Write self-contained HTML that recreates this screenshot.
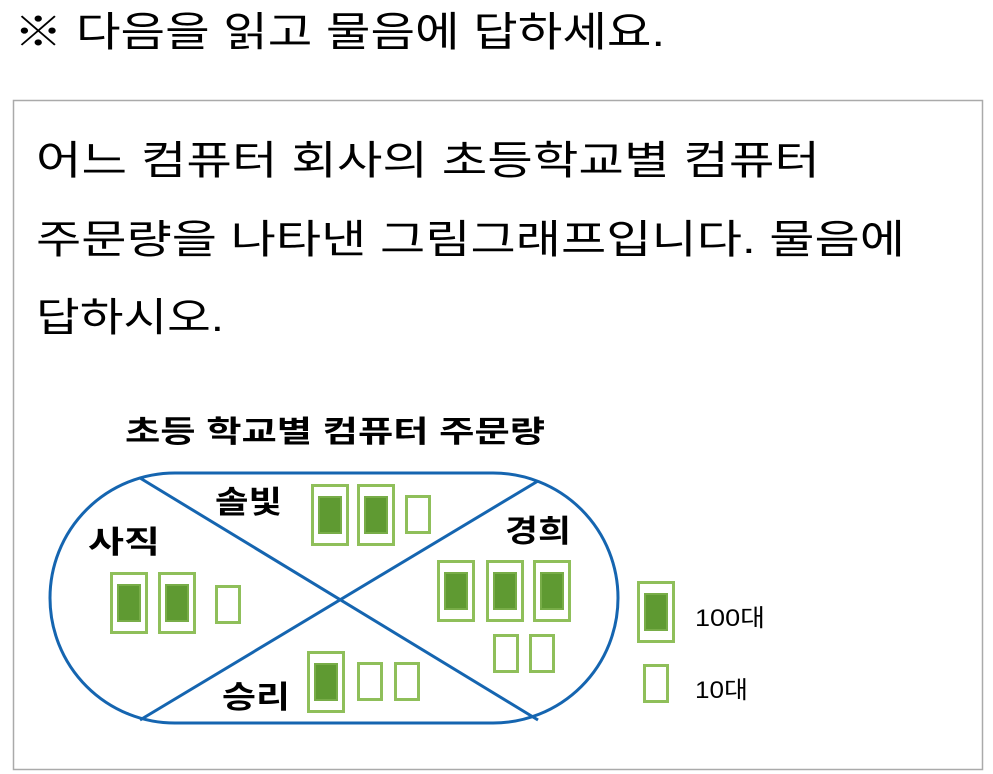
<!DOCTYPE html>
<html><head><meta charset="utf-8"><style>
body{margin:0;width:993px;height:774px;background:#fff;overflow:hidden;font-family:"Liberation Sans","Noto Sans CJK KR",sans-serif}
</style></head><body>
<svg width="993" height="774" xmlns="http://www.w3.org/2000/svg" style="position:absolute;left:0;top:0">
<defs>
<g id="big"><rect x="1.5" y="1.5" width="35" height="59" fill="#fff" stroke="#8fbf5a" stroke-width="3"/><rect x="8" y="13" width="22" height="36" fill="#5f9a32" stroke="#78ad48" stroke-width="2"/></g>
<g id="sm"><rect x="1.5" y="1.5" width="23" height="36" fill="#fff" stroke="#8fbf5a" stroke-width="3"/></g>
</defs>
<g font-family="Liberation Sans, Noto Sans CJK KR, sans-serif" fill="#000">
<text x="14" y="46" font-size="41" textLength="651" lengthAdjust="spacingAndGlyphs">※ 다음을 읽고 물음에 답하세요.</text>
<rect x="13.5" y="100.5" width="969" height="669" fill="none" stroke="#aaa" stroke-width="1.5"/>
<text x="36" y="174" font-size="40" textLength="784" lengthAdjust="spacingAndGlyphs">어느 컴퓨터 회사의 초등학교별 컴퓨터</text>
<text x="36" y="253" font-size="40" textLength="869" lengthAdjust="spacingAndGlyphs">주문량을 나타낸 그림그래프입니다. 물음에</text>
<text x="36" y="331" font-size="40" textLength="188" lengthAdjust="spacingAndGlyphs">답하시오.</text>
<text x="125" y="442" font-size="30" font-weight="bold" textLength="420" lengthAdjust="spacingAndGlyphs">초등 학교별 컴퓨터 주문량</text>
<path d="M175,473 H493 A125,125 0 0 1 493,723 H175 A125,125 0 0 1 175,473 Z" fill="none" stroke="#1565b0" stroke-width="3"/>
<line x1="140" y1="478" x2="538" y2="720" stroke="#1565b0" stroke-width="3"/>
<line x1="140" y1="720" x2="538" y2="481" stroke="#1565b0" stroke-width="3"/>
<text x="215" y="513" font-size="31" font-weight="bold" textLength="67" lengthAdjust="spacingAndGlyphs">솔빛</text>
<text x="88" y="553" font-size="31" font-weight="bold" textLength="72" lengthAdjust="spacingAndGlyphs">사직</text>
<text x="505" y="542" font-size="31" font-weight="bold" textLength="66" lengthAdjust="spacingAndGlyphs">경희</text>
<text x="222" y="708" font-size="31" font-weight="bold" textLength="68" lengthAdjust="spacingAndGlyphs">승리</text>
<use href="#big" x="311" y="484"/><use href="#big" x="357" y="484"/><use href="#sm" x="405" y="495"/>
<use href="#big" x="437" y="560"/><use href="#big" x="486" y="560"/><use href="#big" x="533" y="560"/>
<use href="#sm" x="493" y="634"/><use href="#sm" x="529" y="634"/>
<use href="#big" x="307" y="651"/><use href="#sm" x="357" y="662"/><use href="#sm" x="394" y="662"/>
<use href="#big" x="110" y="572"/><use href="#big" x="158" y="572"/><use href="#sm" x="215" y="585"/>
<use href="#big" x="637" y="581"/><use href="#sm" x="643" y="664"/>
<text x="695" y="626" font-size="24" textLength="70" lengthAdjust="spacingAndGlyphs">100대</text>
<text x="695" y="698" font-size="24" textLength="53" lengthAdjust="spacingAndGlyphs">10대</text>
</g>
</svg>
</body></html>
